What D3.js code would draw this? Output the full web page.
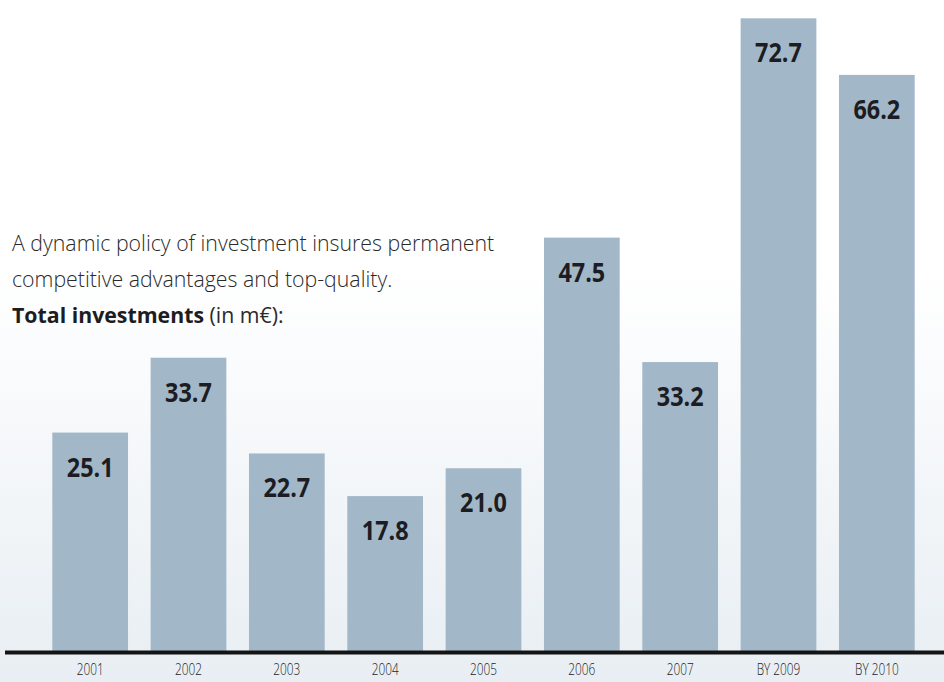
<!DOCTYPE html>
<html>
<head>
<meta charset="utf-8">
<script src="https://cdn.jsdelivr.net/npm/d3@7"></script>
<style>
  html, body { margin: 0; padding: 0; background: #fff; }
  svg { display: block; }
</style>
</head>
<body>
<div id="chart"></div>
<script>
// Total investments (in m€)
const years = ['2001', '2002', '2003', '2004', '2005', '2006', '2007', 'BY 2009', 'BY 2010']
const investments = [25.1, 33.7, 22.7, 17.8, 21.0, 47.5, 33.2, 72.7, 66.2]
const introLines = ['A dynamic policy of investment insures permanent', 'competitive advantages and top-quality.']

const fullWidth = 944
const fullHeight = 682
const baseY = 651

const svg = d3.select('#chart').append('svg')
    .attr('width', fullWidth)
    .attr('height', fullHeight)

// soft background fading towards the bottom
const defs = svg.append('defs')
const grad = defs.append('linearGradient')
    .attr('id', 'bg').attr('x1', 0).attr('y1', 0).attr('x2', 0).attr('y2', 1)
grad.append('stop').attr('offset', '0%').attr('stop-color', '#ffffff')
grad.append('stop').attr('offset', '40%').attr('stop-color', '#ffffff')
grad.append('stop').attr('offset', '100%').attr('stop-color', '#e8eef3')

svg.append('rect')
    .attr('width', fullWidth).attr('height', fullHeight)
    .attr('fill', 'url(#bg)')

const x = d3.scaleBand()
    .domain(years)
    .range([41, 926])
    .paddingInner(0.23)
    .paddingOuter(0.115)

const y = d3.scaleLinear()
    .domain([0, 74])
    .range([baseY, 7])

const data = years.map((d, i) => ({ year: d, value: investments[i] }))

svg.append('g')
    .attr('class', 'bars')
    .selectAll('rect')
    .data(data)
    .enter()
    .append('rect')
    .attr('x', d => x(d.year))
    .attr('y', d => y(d.value))
    .attr('width', x.bandwidth())
    .attr('height', d => baseY - y(d.value))
    .attr('fill', '#a2b8c8')

// value labels, slightly condensed
svg.append('g')
    .attr('class', 'values')
    .selectAll('text')
    .data(data)
    .enter()
    .append('text')
    .attr('transform', d => 'translate(' + (x(d.year) + x.bandwidth() / 2) + ',' + (y(d.value) + 44) + ') scale(0.9,1)')
    .attr('text-anchor', 'middle')
    .attr('font-family', 'Open Sans, sans-serif')
    .attr('font-weight', 'bold')
    .attr('font-size', 26)
    .attr('fill', '#1c1c22')
    .text(d => d.value.toFixed(1))

// axis: thick baseline and year labels
const xAxis = d3.axisBottom(x).tickSize(0).tickPadding(13)
const axis = svg.append('g')
    .attr('class', 'axis axis--x')
    .attr('transform', 'translate(0,' + baseY + ')')
    .call(xAxis)
axis.select('.domain').remove()
axis.selectAll('text')
    .attr('font-family', 'Open Sans, sans-serif')
    .attr('font-size', 16)
    .attr('font-weight', 300)
    .attr('transform', 'scale(0.74,1)')
    .attr('fill', '#222')

svg.append('line')
    .attr('x1', 5).attr('x2', fullWidth)
    .attr('y1', baseY + 1.5).attr('y2', baseY + 1.5)
    .attr('stroke', '#141414')
    .attr('stroke-width', 4)

// intro text
const intro = svg.append('g')
    .attr('font-family', 'Open Sans, sans-serif')
    .attr('font-size', 21.3)
    .attr('fill', '#2a2a2a')

introLines.forEach((line, i) => {
    intro.append('text')
        .attr('x', 12)
        .attr('y', 251 + i * 36)
        .attr('font-weight', 300)
        .text(line)
})

const total = intro.append('text')
    .attr('x', 12)
    .attr('y', 323)
total.append('tspan').attr('font-weight', 'bold').attr('fill', '#1c1c22').text('Total investments')
total.append('tspan').text(' (in m€):')
</script>
</body>
</html>
